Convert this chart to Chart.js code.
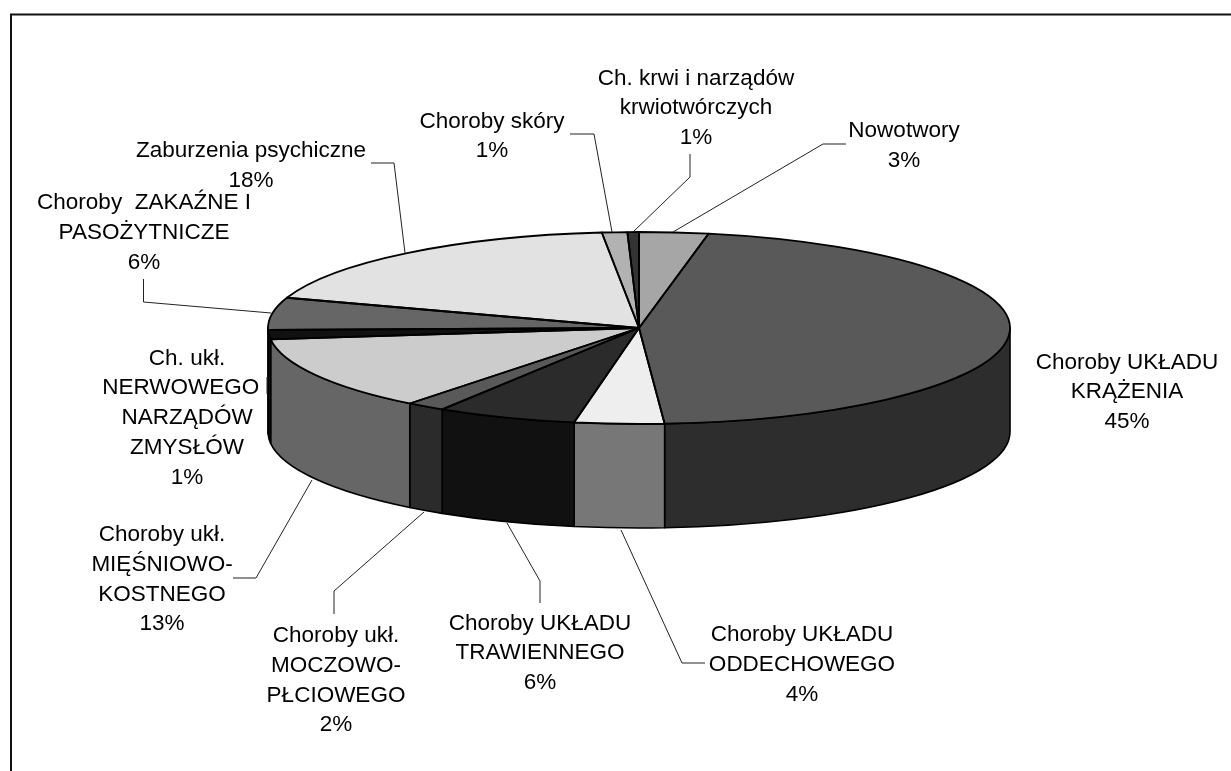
<!DOCTYPE html>
<html><head><meta charset="utf-8">
<style>html,body{margin:0;padding:0;background:#fff}canvas{display:block}</style>
<script src="https://cdn.jsdelivr.net/npm/chart.js@4"></script>
</head><body>
<div style="position:relative;width:1231px;height:771px"><canvas id="c" width="1231" height="771"></canvas></div>
<script>
const categories = ["Nowotwory","Choroby UKŁADU KRĄŻENIA","Choroby UKŁADU ODDECHOWEGO","Choroby UKŁADU TRAWIENNEGO","Choroby ukł. MOCZOWO-PŁCIOWEGO","Choroby ukł. MIĘŚNIOWO-KOSTNEGO","Ch. ukł. NERWOWEGO NARZĄDÓW ZMYSŁÓW","Choroby ZAKAŹNE I PASOŻYTNICZE","Zaburzenia psychiczne","Choroby skóry","Ch. krwi i narządów krwiotwórczych"];
const values = [3.0,45.9,3.9,6.1,1.7,12.5,1.6,5.4,18.3,1.1,0.5];
const percentLabels = ["3%","45%","4%","6%","2%","13%","1%","6%","18%","1%","1%"];
const topColors = ["#a6a6a6","#595959","#eeeeee","#2b2b2b","#595959","#cccccc","#111111","#666666","#e2e2e2","#b2b2b2","#333333"];
const sideColors = ["#777777","#2d2d2d","#777777","#111111","#2b2b2b","#666666","#111111","#444444","#888888","#777777","#222222"];
const labelLines = [
 ["Nowotwory"],["Choroby UKŁADU","KRĄŻENIA"],["Choroby UKŁADU","ODDECHOWEGO"],["Choroby UKŁADU","TRAWIENNEGO"],
 ["Choroby ukł.","MOCZOWO-","PŁCIOWEGO"],["Choroby ukł.","MIĘŚNIOWO-","KOSTNEGO"],["Ch. ukł.","NERWOWEGO  ","NARZĄDÓW","ZMYSŁÓW"],
 ["Choroby  ZAKAŹNE I","PASOŻYTNICZE"],["Zaburzenia psychiczne"],["Choroby skóry"],["Ch. krwi i narządów","krwiotwórczych"]];
const labelBoxes = [[904,131],[1127,362.5],[802,635],[540,623.5],[336,636],[162,535],[187,358.5],[144,203],[251,151],[492,121.5],[696,78.5]];
const leaders = [
 [[673,232],[823,144],[846,144]],null,
 [[621,530],[682,663],[705,663]],
 [[507,523],[540,581],[540,603]],
 [[424,512],[334,591],[334,614]],
 [[312,480],[256,578],[233,578]],
 [[267,377],[267,394]],
 [[271,313],[143.5,302],[143.5,279]],
 [[405,253],[394,163],[371,163]],
 [[612,232],[594,134],[570,134]],
 [[633,232],[690,177],[690,154]]];
const PIE = {cx:639, cy:328, rx:371, ry:96, depth:104};
const LINE_H = 29.7;

const plugin = {
  id:'pie3d',
  beforeDatasetDraw(chart,args){
    const ctx = chart.ctx, meta = args.meta;
    ctx.save();
    ctx.strokeStyle='#000'; ctx.lineWidth=1.6; ctx.lineJoin='round';
    meta.data.forEach((el,i)=>{
      const s = Math.max(el.startAngle,0), e = Math.min(el.endAngle,Math.PI);
      if(e<=s) return;
      ctx.beginPath();
      ctx.ellipse(PIE.cx,PIE.cy,PIE.rx,PIE.ry,0,s,e);
      ctx.ellipse(PIE.cx,PIE.cy+PIE.depth,PIE.rx,PIE.ry,0,e,s,true);
      ctx.closePath();
      ctx.fillStyle=sideColors[i]; ctx.fill(); ctx.stroke();
    });
    ctx.restore();
    const el = meta.data[0], r = el.outerRadius;
    ctx.save();
    ctx.translate(PIE.cx,PIE.cy);
    ctx.scale(PIE.rx/r,PIE.ry/r);
    ctx.translate(-el.x,-el.y);
  },
  afterDatasetDraw(chart,args){
    const ctx = chart.ctx, meta = args.meta;
    ctx.restore();
    ctx.save();
    ctx.strokeStyle='#000'; ctx.lineWidth=1.8; ctx.lineJoin='round';
    meta.data.forEach(el=>{
      ctx.beginPath();
      ctx.moveTo(PIE.cx,PIE.cy);
      ctx.ellipse(PIE.cx,PIE.cy,PIE.rx,PIE.ry,0,el.startAngle,el.endAngle);
      ctx.closePath();
      ctx.stroke();
    });
    ctx.restore();
  },
  afterDraw(chart){
    const ctx = chart.ctx;
    ctx.save();
    ctx.strokeStyle='#111'; ctx.lineWidth=2;
    ctx.beginPath(); ctx.moveTo(11,771); ctx.lineTo(11,14.5); ctx.lineTo(1231,14.5); ctx.stroke();
    ctx.strokeStyle='#222'; ctx.lineWidth=1;
    leaders.forEach(l=>{ if(!l) return; ctx.beginPath(); l.forEach((p,i)=>i?ctx.lineTo(p[0],p[1]):ctx.moveTo(p[0],p[1])); ctx.stroke(); });
    ctx.fillStyle='#000'; ctx.font='22.5px "Liberation Sans"'; ctx.textAlign='center'; ctx.textBaseline='middle';
    labelLines.forEach((lines,i)=>{
      const [x,y]=labelBoxes[i];
      lines.concat([percentLabels[i]]).forEach((t,k)=>ctx.fillText(t,x,y+k*LINE_H));
    });
    ctx.restore();
  }
};
new Chart(document.getElementById('c'),{
  type:'pie',
  data:{labels:categories,datasets:[{data:values,backgroundColor:topColors,borderWidth:0,clip:false}]},
  options:{responsive:false,animation:false,rotation:0,
    layout:{padding:{left:339,right:292,top:28,bottom:143}},
    plugins:{legend:{display:false},tooltip:{enabled:false},title:{display:false}},
    events:[]},
  plugins:[plugin]
});
</script>
</body></html>
